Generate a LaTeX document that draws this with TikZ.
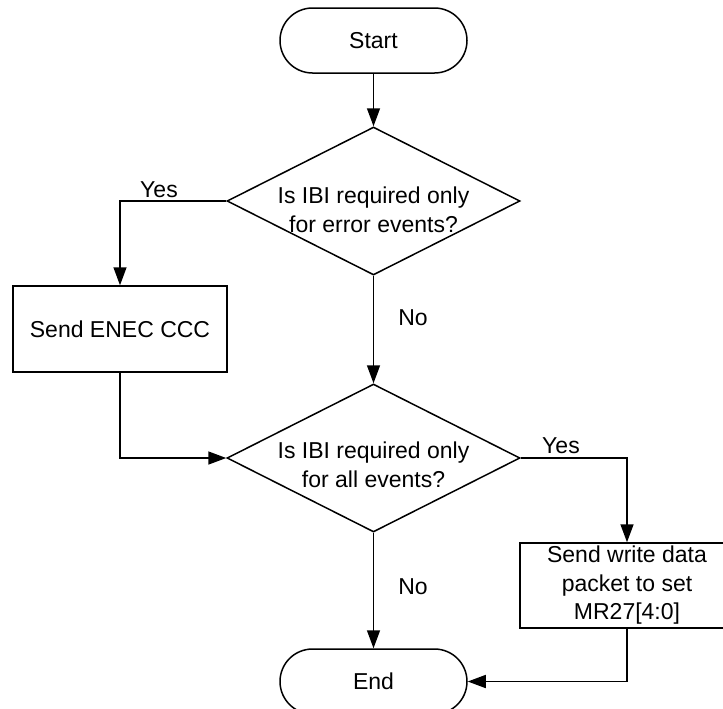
\documentclass[tikz,border=0pt]{standalone}
\usepackage{fontspec}
\setmainfont{Liberation Sans}
\usetikzlibrary{shapes.geometric,arrows.meta}
\begin{document}
\begin{tikzpicture}[x=0.5pt,y=-0.5pt,
  every node/.style={font=\fontsize{11.5pt}{14.25pt}\selectfont},
  terminal/.style={draw, rectangle, rounded corners=16.25pt, minimum width=93.5pt,
    minimum height=32.5pt, inner sep=0pt, line width=0.75pt},
  decision/.style={draw, diamond, minimum width=146.5pt, minimum height=74pt,
    inner sep=0pt, line width=0.75pt},
  process/.style={draw, rectangle, minimum width=107pt, minimum height=43pt,
    inner sep=0pt, align=center, line width=0.75pt},
  flow/.style={line width=0.75pt, -{Triangle[length=9pt,width=6.5pt]}},
  ]
  \useasboundingbox (0,0) rectangle (723,708);
  \clip (0,0) rectangle (723,708);

  % shapes
  \node[terminal] (start) at (373.5,40.5) {Start};
  \node[decision] (q1) at (373.5,201) {};
  \node[align=center] (q1t) at (373.5,210) {Is IBI required only\\for error events?};
  \node[process] (enec) at (120,329) {Send ENEC CCC};
  \node[decision] (q2) at (373.5,458) {};
  \node[align=center] (q2t) at (373.5,465) {Is IBI required only\\for all events?};
  \node[process, minimum height=42.5pt] (mr27) at (627,585.5)
    {Send write data\\packet to set\\MR27[4:0]};
  \node[terminal] (end) at (373.5,681.5) {End};

  % branch labels
  \node (yes1) at (159,190) {Yes};
  \node (no1) at (413,318) {No};
  \node (yes2) at (561,446) {Yes};
  \node (no2) at (413,587) {No};

  % connectors
  \draw[flow] (start.south) -- (q1.north);
  \draw[flow] (q1.west) -| (enec.north);
  \draw[flow] (q1.south) -- (q2.north);
  \draw[flow] (enec.south) |- (q2.west);
  \draw[flow] (q2.east) -| (mr27.north);
  \draw[flow] (q2.south) -- (end.north);
  \draw[flow] (mr27.south) |- (end.east);
\end{tikzpicture}
\end{document}
